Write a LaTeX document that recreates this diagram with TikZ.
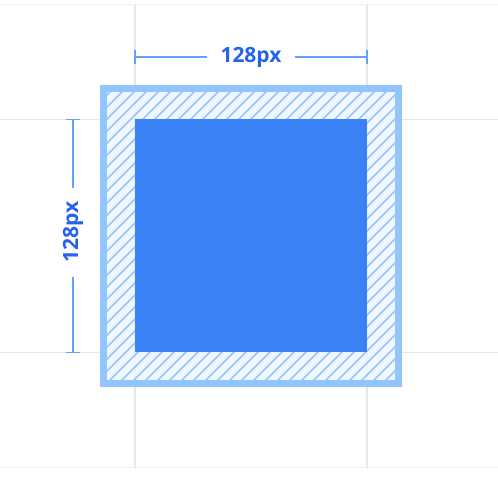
\documentclass[tikz,border=0pt]{standalone}
\usepackage{fontspec}
\setmainfont{Open Sans}
\definecolor{gridc}{HTML}{E5E7EB}
\definecolor{gridl}{HTML}{F0F1F3}
\definecolor{borderc}{HTML}{93C5FD}
\definecolor{hatchbg}{HTML}{EFF6FF}
\definecolor{hatchln}{HTML}{93C5FD}
\definecolor{mainc}{HTML}{3B82F6}
\definecolor{dimc}{HTML}{60A5FA}
\definecolor{txtc}{HTML}{2563EB}
\begin{document}
\begin{tikzpicture}[x=1pt,y=-1pt,
  gridline/.style={draw=gridc,line width=1.2pt},
  gridlight/.style={draw=gridl,line width=1.2pt},
  dimline/.style={draw=dimc,line width=1.6pt},
  dimlabel/.style={text=txtc,font=\fontsize{21}{24}\selectfont\bfseries,inner sep=0pt}]
\useasboundingbox (0,0) rectangle (498,480);
\fill[white] (0,0) rectangle (498,480);
% grid
\draw[gridlight] (0,4.5) -- (498,4.5);
\draw[gridlight] (0,467.5) -- (498,467.5);
\draw[gridline] (0,119.5) -- (498,119.5);
\draw[gridline] (0,352.5) -- (498,352.5);
\draw[gridline] (135,4.5) -- (135,467.5);
\draw[gridline] (367,4.5) -- (367,467.5);
% hatch area
\fill[hatchbg,fill opacity=0.85] (107,92) rectangle (395,380);
\begin{scope}
\clip (107,92) rectangle (395,380);
\foreach \i in {0,...,55} {
  \pgfmathsetmacro{\c}{190+12*\i}
  \draw[hatchln,line width=1.7pt] (\c-400,400) -- (\c,0);
}
\end{scope}
\draw[borderc,line width=7pt] (103.5,88.5) rectangle (398.5,383.5);
% main square
\node[fill=mainc,draw=none,minimum width=232pt,minimum height=233pt,inner sep=0pt] (sq) at (251,235.75) {};
% top dimension
\coordinate (tl) at (135,57);
\coordinate (tr) at (367,57);
\node[dimlabel] (toplabel) at (251,57) {128px};
\draw[dimline] (tl) -- (207,57);
\draw[dimline] (295,57) -- (tr);
\draw[dimline] (135,50) -- (135,64);
\draw[dimline] (367,50) -- (367,64);
% left dimension
\coordinate (lt) at (73,119.5);
\coordinate (lb) at (73,352.5);
\node[dimlabel,rotate=90] (leftlabel) at (73,232) {128px};
\draw[dimline] (lt) -- (73,188);
\draw[dimline] (73,277) -- (lb);
\draw[dimline] (66,119.5) -- (80,119.5);
\draw[dimline] (66,352.5) -- (80,352.5);
\end{tikzpicture}
\end{document}
